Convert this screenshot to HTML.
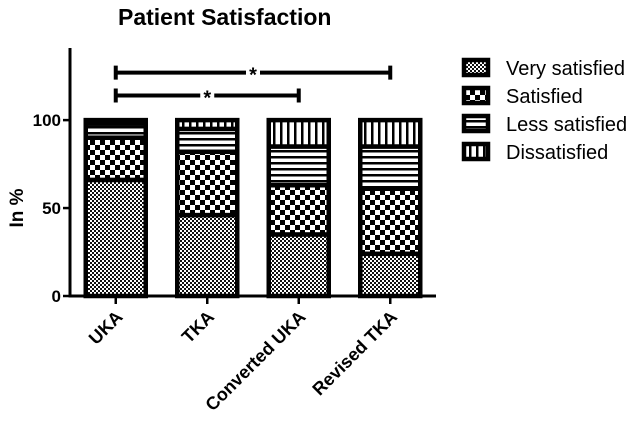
<!DOCTYPE html>
<html><head><meta charset="utf-8"><style>
body{margin:0;background:#fff;}
svg text{font-family:"Liberation Sans",Arial,sans-serif;font-weight:bold;fill:#000;}
</style></head><body>
<svg id="chart" width="632" height="422" viewBox="0 0 632 422" xmlns="http://www.w3.org/2000/svg">
<defs>
<pattern id="p0" width="4" height="4" patternUnits="userSpaceOnUse"><rect width="4" height="4" fill="#fff"/><rect width="2" height="2" fill="#111"/><rect x="2" y="2" width="2" height="2" fill="#111"/></pattern>
<pattern id="p1" width="10" height="10" patternUnits="userSpaceOnUse"><rect width="10" height="10" fill="#fff"/><rect width="5" height="5" fill="#000"/><rect x="5" y="5" width="5" height="5" fill="#000"/></pattern>
<pattern id="p2" width="6" height="6" patternUnits="userSpaceOnUse"><rect width="6" height="6" fill="#fff"/><rect width="6" height="2.5" fill="#000"/></pattern>
<pattern id="p3" width="7" height="7" patternUnits="userSpaceOnUse"><rect width="7" height="7" fill="#fff"/><rect width="2.5" height="7" fill="#000"/></pattern>
</defs>
<text x="118" y="25" font-size="23">Patient Satisfaction</text>
<text transform="translate(23,208) rotate(-90)" text-anchor="middle" font-size="19">In %</text>
<g id="plot"></g>
<g id="legend"></g>
</svg>
<script>
const categories = ["UKA", "TKA", "Converted UKA", "Revised TKA"];
const seriesNames = ["Very satisfied", "Satisfied", "Less satisfied", "Dissatisfied"];
const verySatisfied = [66, 46, 35, 24];
const satisfied = [24, 36, 28, 37];
const lessSatisfied = [8, 13, 22, 24];
const dissatisfied = [2, 5, 15, 15];
const yTicks = [0, 50, 100];
const sigPairs = [[0, 3, "*"], [0, 2, "*"]];
const sigLevels = [127, 114];

const NS = "http://www.w3.org/2000/svg";
const x0 = 70, x1 = 436, yBase = 296, yTop = 48, yMax = 141;
const y = v => yBase - (v / yMax) * (yBase - yTop);
const band = (x1 - x0) / categories.length;
const xc = i => x0 + band * (i + 0.5);
const bw = 60;
const plot = document.getElementById('plot');
function mk(tag, attrs, parent) { const e = document.createElementNS(NS, tag); for (const k in attrs) e.setAttribute(k, attrs[k]); parent.appendChild(e); return e; }

const series = [verySatisfied, satisfied, lessSatisfied, dissatisfied];
categories.forEach((c, i) => {
  let cum = 0;
  series.forEach((s, si) => {
    const r = mk('rect', { x: xc(i) - bw / 2, y: y(cum + s[i]), width: bw, height: y(cum) - y(cum + s[i]), fill: `url(#p${si})`, stroke: '#000', 'stroke-width': 4.5 }, plot);
    
    
    cum += s[i];
  });
  const t = mk('line', { x1: xc(i), x2: xc(i), y1: yBase, y2: yBase + 8, stroke: '#000', 'stroke-width': 2.5 }, plot);
  
  
  const lbl = mk('text', { transform: `translate(${xc(i) + 8},${yBase + 22}) rotate(-45)`, 'text-anchor': 'end', 'font-size': 18 }, plot);
  lbl.textContent = c;
  
  
});
const ax = mk('path', { d: `M${x0} ${yTop}V${yBase}H${x1}`, fill: 'none', stroke: '#000', 'stroke-width': 3 }, plot);


yTicks.forEach(v => {
  const t = mk('line', { x1: x0 - 7, x2: x0, y1: y(v), y2: y(v), stroke: '#000', 'stroke-width': 2.5 }, plot);
  
  
  const l = mk('text', { x: x0 - 9, y: y(v) + 6, 'text-anchor': 'end', 'font-size': 17 }, plot);
  l.textContent = v;
  
  
});
sigPairs.forEach((p, k) => {
  const yy = y(sigLevels[k]);
  const g = mk('path', { d: `M${xc(p[0])} ${yy - 7}V${yy + 7}M${xc(p[0])} ${yy}H${xc(p[1])}M${xc(p[1])} ${yy - 7}V${yy + 7}`, stroke: '#000', 'stroke-width': 4, fill: 'none' }, plot);
  
  
  const mx = (xc(p[0]) + xc(p[1])) / 2;
  const bg = mk('rect', { x: mx - 7, y: yy - 3, width: 14, height: 6, fill: '#fff' }, plot);
  
  
  const s = mk('text', { x: mx, y: yy + 9, 'text-anchor': 'middle', 'font-size': 20 }, plot);
  s.textContent = p[2];
  
  
});
const leg = document.getElementById('legend');
seriesNames.forEach((n, i) => {
  const yy = 60 + i * 28;
  const r = mk('rect', { x: 464, y: yy, width: 24, height: 15, fill: `url(#p${i})`, stroke: '#000', 'stroke-width': 4.5 }, leg);
  
  
  const t = mk('text', { x: 506, y: yy + 15, 'font-size': 20 }, leg);
  t.style.fontWeight = 'normal';
  t.textContent = n;
  
  
});
</script>
</body></html>
